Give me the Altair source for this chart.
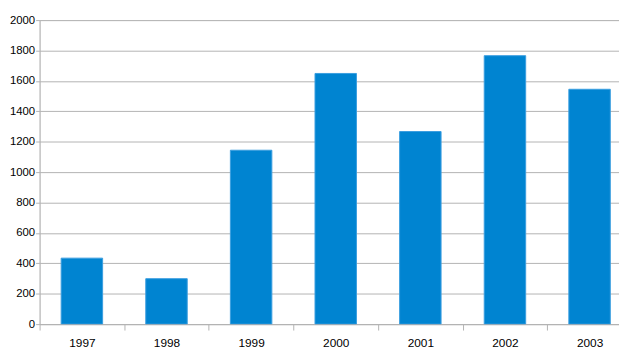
import altair as alt
import pandas as pd

years = [1997, 1998, 1999, 2000, 2001, 2002, 2003]
values = [434, 299, 1144, 1649, 1267, 1766, 1545]
y_ticks = [0, 200, 400, 600, 800, 1000, 1200, 1400, 1600, 1800, 2000]
x_tick_positions = [1996.5, 1997.5, 1998.5, 1999.5, 2000.5, 2001.5, 2002.5]

df = pd.DataFrame({"year": years, "value": values})

band_px = 85.72
plot_w = 587
plot_h = 308
x_max = 1996.5 + plot_w / band_px

grid_col = "#b3b3b3"

chart = alt.Chart(df).mark_bar(
    size=42, color="#0084d1", stroke="#3a9de0", strokeWidth=1, clip=True
).encode(
    x=alt.X(
        "year:Q",
        scale=alt.Scale(domain=[1996.5, x_max], nice=False, zero=False, padding=0),
        axis=alt.Axis(
            title=None,
            values=x_tick_positions,
            labelExpr="format(datum.value + 0.5, 'd')",
            labelOffset=band_px / 2,
            labelFlush=False,
            labelOverlap=False,
            labelBound=False,
            grid=False,
            tickSize=6,
            tickColor=grid_col,
            domainColor=grid_col,
            labelFont="Liberation Sans",
            labelFontSize=12,
            labelColor="#000000",
            labelPadding=8,
        ),
    ),
    y=alt.Y(
        "value:Q",
        scale=alt.Scale(domain=[0, 2000], nice=False, padding=0),
        axis=alt.Axis(
            title=None,
            values=y_ticks,
            format="d",
            grid=True,
            gridColor=grid_col,
            gridOpacity=1,
            tickSize=4,
            tickColor=grid_col,
            domainColor=grid_col,
            labelFont="Liberation Sans",
            labelFontSize=11.5,
            labelColor="#000000",
            labelPadding=1,
            labelBound=False,
        ),
    ),
).properties(
    width=plot_w,
    height=plot_h,
    autosize=alt.AutoSizeParams(type="none"),
    padding={"left": 32, "top": 10, "right": 0, "bottom": 28},
).configure_view(stroke=None).configure(background="white")

chart.save("out.html", embed_options={"renderer": "svg", "actions": False})
